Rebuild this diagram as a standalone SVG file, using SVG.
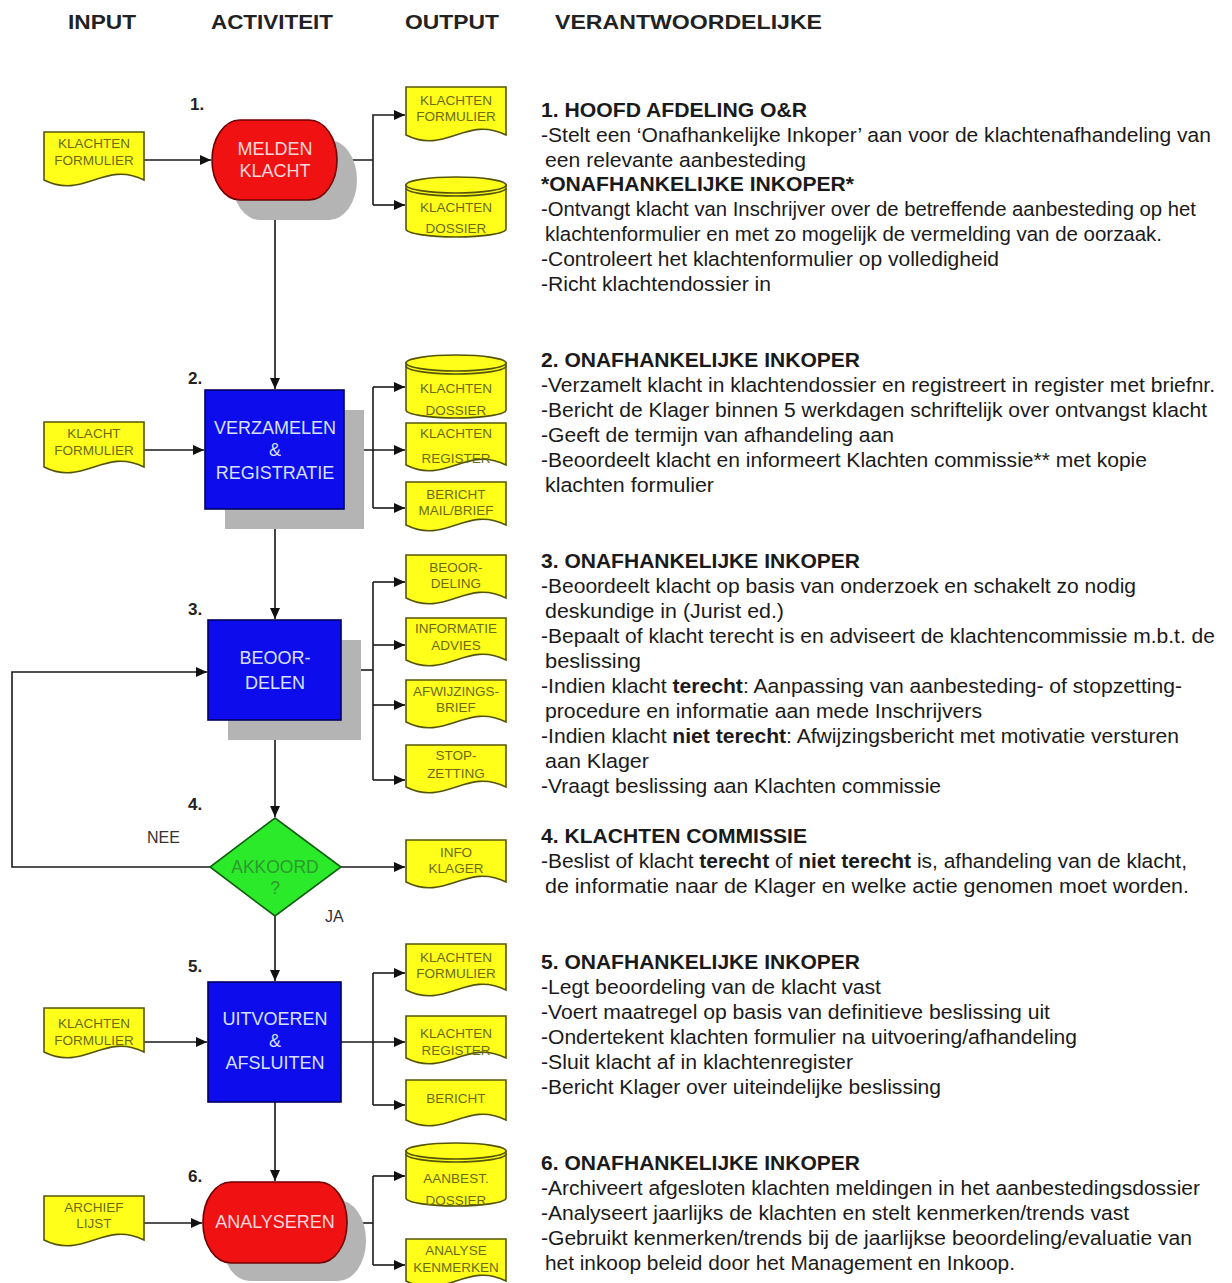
<svg xmlns="http://www.w3.org/2000/svg" width="1232" height="1283" viewBox="0 0 1232 1283">
<style>
.bg{fill:#ffffff}
.hd{font-family:"Liberation Sans",Arial,sans-serif;font-size:20px;font-weight:bold;fill:#222}
.num{font-family:"Liberation Sans",Arial,sans-serif;font-size:17px;font-weight:bold;fill:#222}
.lbl{font-family:"Liberation Sans",Arial,sans-serif;font-size:16px;fill:#333}
.t{font-family:"Liberation Sans",Arial,sans-serif;font-size:20.5px;fill:#1a1a1a}
.tb{font-family:"Liberation Sans",Arial,sans-serif;font-size:21px;font-weight:bold;fill:#1a1a1a}
.b{font-weight:bold}
.doc{fill:#ffff1a;stroke:#55550a;stroke-width:1.6}
.dt{font-family:"Liberation Sans",Arial,sans-serif;font-size:13.5px;fill:#6b6b12;text-anchor:middle}
.shadow{fill:#b4b4b4}
.red{fill:#f01212;stroke:#700000;stroke-width:1.6}
.blue{fill:#0c0cec;stroke:#000060;stroke-width:1.6}
.green{fill:#2aea2a;stroke:#106010;stroke-width:1.6}
.rt{font-family:"Liberation Sans",Arial,sans-serif;font-size:18px;fill:#ffd6dc;text-anchor:middle}
.bt{font-family:"Liberation Sans",Arial,sans-serif;font-size:18px;fill:#d8e0ff;text-anchor:middle}
.gt{font-family:"Liberation Sans",Arial,sans-serif;font-size:17.5px;fill:#2e9a2e;text-anchor:middle}
.ln{fill:none;stroke:#1a1a1a;stroke-width:1.6}
.main{fill:none;stroke:#444;stroke-width:2}
.lip{fill:none;stroke:#55550a;stroke-width:1.6}
</style>
<defs>
<marker id="ah" markerUnits="userSpaceOnUse" markerWidth="12" markerHeight="10" refX="11" refY="5" orient="auto">
<path d="M0,0 L11,5 L0,10 Z" fill="#111"/>
</marker>
</defs>
<rect class="bg" x="0" y="0" width="1232" height="1283"/>

<g id="headers">
<text class="hd" x="68" y="29" textLength="68" lengthAdjust="spacingAndGlyphs">INPUT</text>
<text class="hd" x="211" y="29" textLength="122" lengthAdjust="spacingAndGlyphs">ACTIVITEIT</text>
<text class="hd" x="405" y="29" textLength="94" lengthAdjust="spacingAndGlyphs">OUTPUT</text>
<text class="hd" x="555" y="29" textLength="267" lengthAdjust="spacingAndGlyphs">VERANTWOORDELIJKE</text>
</g>

<g id="connectors">
<path class="main" d="M275 200 V389" marker-end="url(#ah)"/>
<path class="main" d="M275 509 V619" marker-end="url(#ah)"/>
<path class="main" d="M275 720 V817" marker-end="url(#ah)"/>
<path class="main" d="M275 916 V981" marker-end="url(#ah)"/>
<path class="main" d="M275 1102 V1181" marker-end="url(#ah)"/>
<path class="ln" d="M144 160 H211" marker-end="url(#ah)"/>
<path class="ln" d="M144 450 H204" marker-end="url(#ah)"/>
<path class="ln" d="M144 1042 H207" marker-end="url(#ah)"/>
<path class="ln" d="M144 1223 H202" marker-end="url(#ah)"/>
<path class="ln" d="M337 160 H373"/>
<path class="ln" d="M373 205 V115 H405" marker-end="url(#ah)"/>
<path class="ln" d="M373 205 H405" marker-end="url(#ah)"/>
<path class="ln" d="M373 387 V508"/>
<path class="ln" d="M373 387 H405" marker-end="url(#ah)"/>
<path class="ln" d="M344 450 H405" marker-end="url(#ah)"/>
<path class="ln" d="M373 508 H405" marker-end="url(#ah)"/>
<path class="ln" d="M373 582 V780"/>
<path class="ln" d="M341 670 H373"/>
<path class="ln" d="M373 582 H405" marker-end="url(#ah)"/>
<path class="ln" d="M373 645 H405" marker-end="url(#ah)"/>
<path class="ln" d="M373 705 H405" marker-end="url(#ah)"/>
<path class="ln" d="M373 780 H405" marker-end="url(#ah)"/>
<path class="ln" d="M340 867 H405" marker-end="url(#ah)"/>
<path class="ln" d="M210 867 H12 V672 H207" marker-end="url(#ah)"/>
<path class="ln" d="M373 973 V1105"/>
<path class="ln" d="M373 973 H405" marker-end="url(#ah)"/>
<path class="ln" d="M341 1042 H405" marker-end="url(#ah)"/>
<path class="ln" d="M373 1105 H405" marker-end="url(#ah)"/>
<path class="ln" d="M347 1223 H373"/>
<path class="ln" d="M373 1176 V1265"/>
<path class="ln" d="M373 1176 H405" marker-end="url(#ah)"/>
<path class="ln" d="M373 1265 H405" marker-end="url(#ah)"/>
</g>

<g id="n1">
<text class="num" x="190" y="110">1.</text>
<rect class="shadow" x="232" y="140" width="125" height="80" rx="28" ry="40"/>
<rect class="red" x="212" y="120" width="125" height="80" rx="28" ry="40"/>
<text class="rt" x="275" y="154.5">MELDEN</text>
<text class="rt" x="275" y="176.5">KLACHT</text>
</g>
<g id="in1">
<path class="doc" d="M44 132 H144 V180 C104 160 84 200 44 180 Z"/>
<text class="dt" x="94" y="148">KLACHTEN</text>
<text class="dt" x="94" y="165">FORMULIER</text>
</g>
<g id="out1a">
<path class="doc" d="M406 87 H506 V135 C466 115 446 155 406 135 Z"/>
<text class="dt" x="456" y="105">KLACHTEN</text>
<text class="dt" x="456" y="121">FORMULIER</text>
</g>
<g id="out1b">
<path class="doc" d="M406 185 V229 A50 8 0 0 0 506 229 V185 Z"/>
<ellipse class="doc" cx="456" cy="185" rx="50" ry="8"/>
<path class="lip" d="M406 188 A50 8 0 0 0 506 188"/>
<text class="dt" x="456" y="212">KLACHTEN</text>
<text class="dt" x="456" y="233">DOSSIER</text>
</g>

<g id="n2">
<text class="num" x="188" y="384">2.</text>
<rect class="shadow" x="225" y="410" width="139" height="119"/>
<rect class="blue" x="205" y="390" width="139" height="119"/>
<text class="bt" x="275" y="433.5">VERZAMELEN</text>
<text class="bt" x="275" y="456">&amp;</text>
<text class="bt" x="275" y="478.5">REGISTRATIE</text>
</g>
<g id="in2">
<path class="doc" d="M44 422 H144 V467 C104 447 84 487 44 467 Z"/>
<text class="dt" x="94" y="438">KLACHT</text>
<text class="dt" x="94" y="455">FORMULIER</text>
</g>
<g id="out2a">
<path class="doc" d="M406 363 V410 A50 8 0 0 0 506 410 V363 Z"/>
<ellipse class="doc" cx="456" cy="363" rx="50" ry="8"/>
<path class="lip" d="M406 366 A50 8 0 0 0 506 366"/>
<text class="dt" x="456" y="393">KLACHTEN</text>
<text class="dt" x="456" y="415">DOSSIER</text>
</g>
<g id="out2b">
<path class="doc" d="M406 423 H506 V465 C466 445 446 485 406 465 Z"/>
<text class="dt" x="456" y="438">KLACHTEN</text>
<text class="dt" x="456" y="463">REGISTER</text>
</g>
<g id="out2c">
<path class="doc" d="M406 482 H506 V525 C466 505 446 545 406 525 Z"/>
<text class="dt" x="456" y="499">BERICHT</text>
<text class="dt" x="456" y="515">MAIL/BRIEF</text>
</g>

<g id="n3">
<text class="num" x="188" y="615">3.</text>
<rect class="shadow" x="228" y="640" width="133" height="100"/>
<rect class="blue" x="208" y="620" width="133" height="100"/>
<text class="bt" x="275" y="663.5">BEOOR-</text>
<text class="bt" x="275" y="688.5">DELEN</text>
</g>
<g id="out3a">
<path class="doc" d="M406 555 H506 V598 C466 578 446 618 406 598 Z"/>
<text class="dt" x="456" y="572">BEOOR-</text>
<text class="dt" x="456" y="588">DELING</text>
</g>
<g id="out3b">
<path class="doc" d="M406 618 H506 V660 C466 640 446 680 406 660 Z"/>
<text class="dt" x="456" y="633">INFORMATIE</text>
<text class="dt" x="456" y="650">ADVIES</text>
</g>
<g id="out3c">
<path class="doc" d="M406 680 H506 V722 C466 702 446 742 406 722 Z"/>
<text class="dt" x="456" y="696">AFWIJZINGS-</text>
<text class="dt" x="456" y="712">BRIEF</text>
</g>
<g id="out3d">
<path class="doc" d="M406 745 H506 V787 C466 767 446 807 406 787 Z"/>
<text class="dt" x="456" y="760">STOP-</text>
<text class="dt" x="456" y="778">ZETTING</text>
</g>

<g id="n4">
<text class="num" x="188" y="810">4.</text>
<text class="lbl" x="147" y="843">NEE</text>
<text class="lbl" x="325" y="922">JA</text>
<path class="green" d="M275 818 L341 867 L275 916 L210 867 Z"/>
<text class="gt" x="275" y="872.5">AKKOORD</text>
<text class="gt" x="275" y="894">?</text>
</g>
<g id="out4">
<path class="doc" d="M406 840 H506 V882 C466 862 446 902 406 882 Z"/>
<text class="dt" x="456" y="857">INFO</text>
<text class="dt" x="456" y="873">KLAGER</text>
</g>

<g id="n5">
<text class="num" x="188" y="972">5.</text>
<rect class="blue" x="208" y="982" width="133" height="120"/>
<text class="bt" x="275" y="1024.5">UITVOEREN</text>
<text class="bt" x="275" y="1047">&amp;</text>
<text class="bt" x="275" y="1069">AFSLUITEN</text>
</g>
<g id="in5">
<path class="doc" d="M44 1008 H144 V1052 C104 1032 84 1072 44 1052 Z"/>
<text class="dt" x="94" y="1028">KLACHTEN</text>
<text class="dt" x="94" y="1045">FORMULIER</text>
</g>
<g id="out5a">
<path class="doc" d="M406 944 H506 V990 C466 970 446 1010 406 990 Z"/>
<text class="dt" x="456" y="962">KLACHTEN</text>
<text class="dt" x="456" y="978">FORMULIER</text>
</g>
<g id="out5b">
<path class="doc" d="M406 1016 H506 V1058 C466 1038 446 1078 406 1058 Z"/>
<text class="dt" x="456" y="1038">KLACHTEN</text>
<text class="dt" x="456" y="1055">REGISTER</text>
</g>
<g id="out5c">
<path class="doc" d="M406 1080 H506 V1120 C466 1100 446 1140 406 1120 Z"/>
<text class="dt" x="456" y="1103">BERICHT</text>
</g>

<g id="n6">
<text class="num" x="188" y="1182">6.</text>
<rect class="shadow" x="222" y="1200" width="144" height="81" rx="28" ry="40"/>
<rect class="red" x="203" y="1182" width="144" height="81" rx="28" ry="40"/>
<text class="rt" x="275" y="1228">ANALYSEREN</text>
</g>
<g id="in6">
<path class="doc" d="M44 1196 H144 V1240 C104 1220 84 1260 44 1240 Z"/>
<text class="dt" x="94" y="1212">ARCHIEF</text>
<text class="dt" x="94" y="1228">LIJST</text>
</g>
<g id="out6a">
<path class="doc" d="M406 1151 V1198 A50 8 0 0 0 506 1198 V1151 Z"/>
<ellipse class="doc" cx="456" cy="1151" rx="50" ry="8"/>
<path class="lip" d="M406 1154 A50 8 0 0 0 506 1154"/>
<text class="dt" x="456" y="1183">AANBEST.</text>
<text class="dt" x="456" y="1205">DOSSIER</text>
</g>
<g id="out6b">
<path class="doc" d="M406 1239 H506 V1281 C466 1261 446 1301 406 1281 Z"/>
<text class="dt" x="456" y="1255">ANALYSE</text>
<text class="dt" x="456" y="1272">KENMERKEN</text>
</g>

<g id="resp1">
<text class="tb" x="541" y="117" textLength="266" lengthAdjust="spacingAndGlyphs">1. HOOFD AFDELING O&amp;R</text>
<text class="t" x="541" y="142" textLength="670" lengthAdjust="spacingAndGlyphs">-Stelt een ‘Onafhankelijke Inkoper’ aan voor de klachtenafhandeling van</text>
<text class="t" x="545" y="167" textLength="261" lengthAdjust="spacingAndGlyphs">een relevante aanbesteding</text>
<text class="tb" x="541" y="191" textLength="313" lengthAdjust="spacingAndGlyphs">*ONAFHANKELIJKE INKOPER*</text>
<text class="t" x="541" y="216" textLength="655" lengthAdjust="spacingAndGlyphs">-Ontvangt klacht van Inschrijver over de betreffende aanbesteding op het</text>
<text class="t" x="545" y="241" textLength="617" lengthAdjust="spacingAndGlyphs">klachtenformulier en met zo mogelijk de vermelding van de oorzaak.</text>
<text class="t" x="541" y="266" textLength="458" lengthAdjust="spacingAndGlyphs">-Controleert het klachtenformulier op volledigheid</text>
<text class="t" x="541" y="291" textLength="230" lengthAdjust="spacingAndGlyphs">-Richt klachtendossier in</text>
</g>
<g id="resp2">
<text class="tb" x="541" y="367" textLength="319" lengthAdjust="spacingAndGlyphs">2. ONAFHANKELIJKE INKOPER</text>
<text class="t" x="541" y="392" textLength="674" lengthAdjust="spacingAndGlyphs">-Verzamelt klacht in klachtendossier en registreert in register met briefnr.</text>
<text class="t" x="541" y="417" textLength="666" lengthAdjust="spacingAndGlyphs">-Bericht de Klager binnen 5 werkdagen schriftelijk over ontvangst klacht</text>
<text class="t" x="541" y="442" textLength="353" lengthAdjust="spacingAndGlyphs">-Geeft de termijn van afhandeling aan</text>
<text class="t" x="541" y="467" textLength="606" lengthAdjust="spacingAndGlyphs">-Beoordeelt klacht en informeert Klachten commissie** met kopie</text>
<text class="t" x="545" y="492" textLength="169" lengthAdjust="spacingAndGlyphs">klachten formulier</text>
</g>
<g id="resp3">
<text class="tb" x="541" y="568" textLength="319" lengthAdjust="spacingAndGlyphs">3. ONAFHANKELIJKE INKOPER</text>
<text class="t" x="541" y="593" textLength="595" lengthAdjust="spacingAndGlyphs">-Beoordeelt klacht op basis van onderzoek en schakelt zo nodig</text>
<text class="t" x="545" y="618" textLength="239" lengthAdjust="spacingAndGlyphs">deskundige in (Jurist ed.)</text>
<text class="t" x="541" y="643" textLength="674" lengthAdjust="spacingAndGlyphs">-Bepaalt of klacht terecht is en adviseert de klachtencommissie m.b.t. de</text>
<text class="t" x="545" y="668" textLength="96" lengthAdjust="spacingAndGlyphs">beslissing</text>
<text class="t" x="541" y="693" textLength="641" lengthAdjust="spacingAndGlyphs">-Indien klacht <tspan class="b">terecht</tspan>: Aanpassing van aanbesteding- of stopzetting-</text>
<text class="t" x="545" y="718" textLength="437" lengthAdjust="spacingAndGlyphs">procedure en informatie aan mede Inschrijvers</text>
<text class="t" x="541" y="743" textLength="638" lengthAdjust="spacingAndGlyphs">-Indien klacht <tspan class="b">niet terecht</tspan>: Afwijzingsbericht met motivatie versturen</text>
<text class="t" x="545" y="768" textLength="104" lengthAdjust="spacingAndGlyphs">aan Klager</text>
<text class="t" x="541" y="793" textLength="400" lengthAdjust="spacingAndGlyphs">-Vraagt beslissing aan Klachten commissie</text>
</g>
<g id="resp4">
<text class="tb" x="541" y="843" textLength="266" lengthAdjust="spacingAndGlyphs">4. KLACHTEN COMMISSIE</text>
<text class="t" x="541" y="868" textLength="646" lengthAdjust="spacingAndGlyphs">-Beslist of klacht <tspan class="b">terecht</tspan> of <tspan class="b">niet terecht</tspan> is, afhandeling van de klacht,</text>
<text class="t" x="545" y="893" textLength="644" lengthAdjust="spacingAndGlyphs">de informatie naar de Klager en welke actie genomen moet worden.</text>
</g>
<g id="resp5">
<text class="tb" x="541" y="969" textLength="319" lengthAdjust="spacingAndGlyphs">5. ONAFHANKELIJKE INKOPER</text>
<text class="t" x="541" y="994" textLength="340" lengthAdjust="spacingAndGlyphs">-Legt beoordeling van de klacht vast</text>
<text class="t" x="541" y="1019" textLength="509" lengthAdjust="spacingAndGlyphs">-Voert maatregel op basis van definitieve beslissing uit</text>
<text class="t" x="541" y="1044" textLength="536" lengthAdjust="spacingAndGlyphs">-Ondertekent klachten formulier na uitvoering/afhandeling</text>
<text class="t" x="541" y="1069" textLength="312" lengthAdjust="spacingAndGlyphs">-Sluit klacht af in klachtenregister</text>
<text class="t" x="541" y="1094" textLength="400" lengthAdjust="spacingAndGlyphs">-Bericht Klager over uiteindelijke beslissing</text>
</g>
<g id="resp6">
<text class="tb" x="541" y="1170" textLength="319" lengthAdjust="spacingAndGlyphs">6. ONAFHANKELIJKE INKOPER</text>
<text class="t" x="541" y="1195" textLength="659" lengthAdjust="spacingAndGlyphs">-Archiveert afgesloten klachten meldingen in het aanbestedingsdossier</text>
<text class="t" x="541" y="1220" textLength="588" lengthAdjust="spacingAndGlyphs">-Analyseert jaarlijks de klachten en stelt kenmerken/trends vast</text>
<text class="t" x="541" y="1245" textLength="651" lengthAdjust="spacingAndGlyphs">-Gebruikt kenmerken/trends bij de jaarlijkse beoordeling/evaluatie van</text>
<text class="t" x="545" y="1270" textLength="470" lengthAdjust="spacingAndGlyphs">het inkoop beleid door het Management en Inkoop.</text>
</g>
</svg>
